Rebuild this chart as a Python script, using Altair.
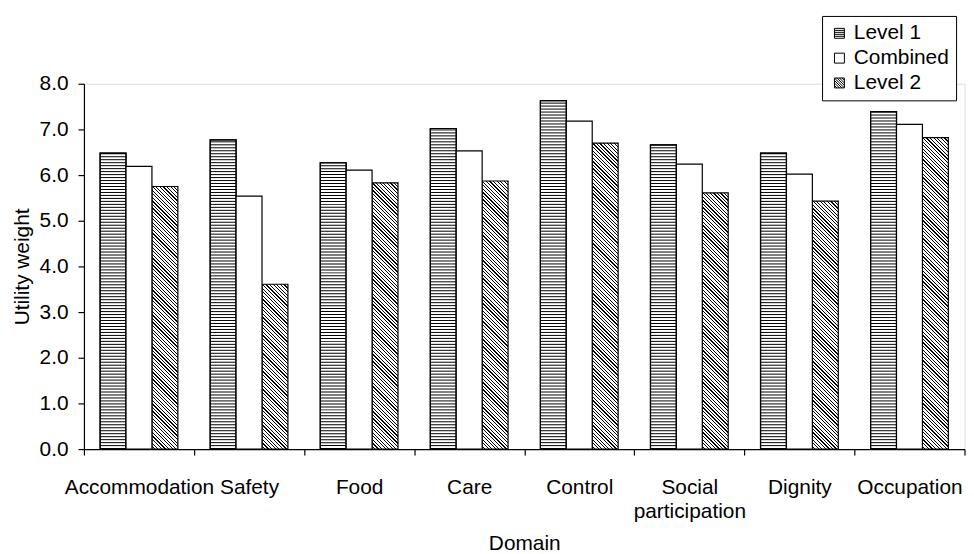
import altair as alt
import pandas as pd

# ---- data ----
domains = ["Accommodation", "Safety", "Food", "Care", "Control",
           "Social participation", "Dignity", "Occupation"]
series = ["Level 1", "Combined", "Level 2"]
level1 = [6.48, 6.77, 6.27, 7.02, 7.63, 6.66, 6.48, 7.39]
combined = [6.19, 5.54, 6.11, 6.53, 7.18, 6.24, 6.02, 7.11]
level2 = [5.75, 3.61, 5.83, 5.87, 6.70, 5.61, 5.43, 6.82]
y_ticks = [0, 1, 2, 3, 4, 5, 6, 7, 8]

rows = []
for s, vals in zip(series, [level1, combined, level2]):
    for d, v in zip(domains, vals):
        rows.append({"domain": d, "series": s, "value": v})
df = pd.DataFrame(rows)

# ---- layout / style constants ----
FONT = "Liberation Sans"
W, H = 887, 368
Y_MAX = 8
PX_PER_UNIT = H / Y_MAX
OFFSET_PAD = 0.624
BAR_W = (W / len(domains)) / (len(series) + 2 * OFFSET_PAD)
STRIPE_STEP = 3.0 / PX_PER_UNIT      # horizontal stripe period (data units)
STRIPE_THICK = 1.0 / PX_PER_UNIT     # horizontal stripe thickness (data units)


def _stops(n, dark):
    st = []
    for i in range(n):
        a = i / n
        b = min(1.0, (i + 1 - dark) / n)
        c = min(1.0, (i + 1) / n)
        st += [alt.GradientStop(offset=a, color="white"),
               alt.GradientStop(offset=b, color="white"),
               alt.GradientStop(offset=b, color="black"),
               alt.GradientStop(offset=c, color="black")]
    return st


def dstripes(h, w=BAR_W, period=3.6, dark=0.34):
    n = max(1, round((w + h) / period))
    k = (w + h) / (w * w + h * h)
    return alt.LinearGradient(gradient="linear", stops=_stops(n, dark),
                              x1=0, y1=1, x2=k * w, y2=1 - k * h)


sq = "M-1,-1H1V1H-1Z"
path_l1 = sq + " M-1,-0.6H1 M-1,-0.2H1 M-1,0.2H1 M-1,0.6H1"
path_c = sq
path_l2 = (sq + " M-1,-0.5L0.5,1 M-1,0L0,1 M-1,0.5L-0.5,1"
           " M-0.5,-1L1,0.5 M0,-1L1,0 M0.5,-1L1,-0.5 M-1,-1L1,1")
shape_paths = [path_l1, path_c, path_l2]

x_axis = alt.Axis(
    tickBand="extent", labelAngle=0, labelFont=FONT, labelFontSize=21,
    labelColor="black", domainColor="black", tickColor="black",
    domainWidth=1.2, tickWidth=1.2, tickSize=6, labelPadding=22,
    labelBaseline="top", labelLineHeight=24.3, labelLimit=400,
    labelOverlap=False,
    labelExpr="length(datum.label) > 14 ? split(datum.label, ' ') : datum.label",
    titleFont=FONT, titleFontSize=21, titleFontWeight="normal",
    titleColor="black", titleY=101.4, titleBaseline="alphabetic", grid=False,
)
y_axis = alt.Axis(
    values=y_ticks, format=".1f", labelFont=FONT, labelFontSize=21,
    labelColor="black", domainColor="black", tickColor="black",
    domainWidth=1.2, tickWidth=1.2, tickSize=6, labelPadding=10,
    titleFont=FONT, titleFontSize=21, titleFontWeight="normal",
    titleColor="black", titleX=-56.2, titleY=184, titleBaseline="alphabetic",
    grid=False,
)

X = alt.X("domain:N", title="Domain",
          scale=alt.Scale(domain=domains, paddingInner=0, paddingOuter=0),
          axis=x_axis)
XO = alt.XOffset("series:N",
                 scale=alt.Scale(domain=series, paddingInner=0,
                                 paddingOuter=OFFSET_PAD))
YS = alt.Scale(domain=[0, Y_MAX], nice=False)

base = alt.Chart(df).encode(
    x=X, xOffset=XO,
    y=alt.Y("value:Q", title="Utility weight", scale=YS, axis=y_axis),
)

layers = []

# Level 1: white bars with horizontal black stripes
layers.append(
    base.transform_filter(alt.datum.series == "Level 1")
    .mark_bar(fill="white", stroke="black", strokeWidth=1.2)
)
stripes = (
    alt.Chart(df)
    .transform_filter(alt.datum.series == "Level 1")
    .transform_calculate(s=f"sequence(0, datum.value, {STRIPE_STEP})")
    .transform_flatten(["s"])
    .transform_calculate(s2=f"min(datum.s + {STRIPE_THICK}, datum.value)")
    .mark_bar(fill="black", strokeWidth=0)
    .encode(x=X, xOffset=XO,
            y=alt.Y("s:Q", title="Utility weight", scale=YS, axis=y_axis),
            y2="s2:Q")
)
layers.append(stripes)
layers.append(
    base.transform_filter(alt.datum.series == "Level 1")
    .mark_bar(fill="transparent", stroke="black", strokeWidth=1.2)
)

# Level 2: diagonal hatch
for d, v in zip(domains, level2):
    layers.append(
        base.transform_filter((alt.datum.series == "Level 2") & (alt.datum.domain == d))
        .mark_bar(fill=dstripes(v * PX_PER_UNIT), stroke="black", strokeWidth=1.2)
    )

# Combined: plain white
layers.append(
    base.transform_filter(alt.datum.series == "Combined")
    .mark_bar(fill="white", stroke="black", strokeWidth=1.2)
)

# legend (shape legend with patterned custom symbols)
legend_layer = base.transform_filter("false").mark_point(
    filled=False, color="black", strokeWidth=1, size=100, opacity=1
).encode(
    shape=alt.Shape(
        "series:N",
        scale=alt.Scale(domain=series, range=shape_paths),
        legend=alt.Legend(
            orient="none", legendX=743.5, legendY=-68.3, title=None,
            strokeColor="black", fillColor="white", padding=7,
            labelFont=FONT, labelFontSize=21, labelColor="black",
            symbolSize=100, symbolStrokeColor="black", symbolFillColor="white",
            symbolStrokeWidth=1, rowPadding=3, labelOffset=4,
            labelExpr="datum.label + '  '",
        ),
    )
)
layers.append(legend_layer)

chart = alt.layer(*layers).properties(
    width=W, height=H,
    autosize=alt.AutoSizeParams(type="none"),
    padding={"left": 76.5, "top": 74.3, "right": 1.5, "bottom": 108},
).configure_view(stroke=None).configure(font=FONT)

chart.save("out.html", embed_options={"renderer": "svg", "actions": False})
